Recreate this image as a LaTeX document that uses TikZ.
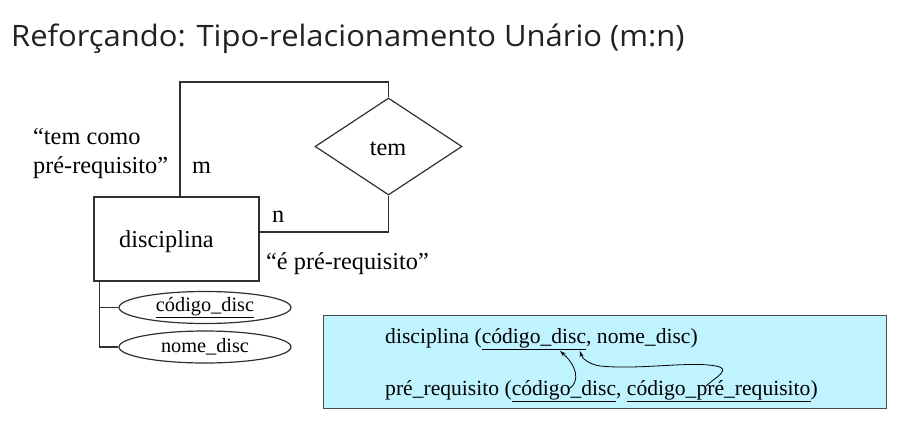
\documentclass[tikz,border=0pt]{standalone}
\usepackage{fontspec}
\setmainfont{Liberation Serif}
\newfontfamily\titlefont[FakeStretch=1.05]{Open Sans}
\usetikzlibrary{shapes.geometric,arrows.meta}
\definecolor{titlegray}{HTML}{222222}
\definecolor{boxfill}{HTML}{BFF3FF}
\definecolor{boxline}{HTML}{4A4A55}
\definecolor{linegray}{HTML}{303030}
\tikzset{
  erline/.style={draw=linegray, line width=1.2pt},
  lbl/.style={inner sep=0pt, anchor=base west, font=\fontsize{24.3}{29}\selectfont},
  attr/.style={erline, ellipse, minimum width=172pt, minimum height=32pt, inner sep=0pt,
               font=\fontsize{20.3}{24}\selectfont},
  reltext/.style={inner sep=0pt, anchor=base west, font=\fontsize{21.6}{26}\selectfont},
  fkarrow/.style={draw=black, line width=0.8pt, -{Stealth[length=6pt,width=4pt]}}
}
\begin{document}
\begin{tikzpicture}[x=1pt,y=-1pt]
\useasboundingbox (0,0) rectangle (901,436);
% title
\node[inner sep=0pt, anchor=base west, text=titlegray, font=\titlefont\fontsize{29.5}{33}\selectfont] (title) at (11,47) {Reforçando: Tipo-relacionamento Unário (m:n)};
% entity
\node[erline, minimum width=165pt, minimum height=84pt, inner sep=0pt] (disc) at (176.5,239) {};
\node[lbl] (disctext) at (119,247) {disciplina};
% relationship
\node[erline, diamond, minimum width=147pt, minimum height=97pt, inner sep=0pt] (tem) at (388.5,146.5) {};
\node[lbl, anchor=base] (temtext) at (388,155) {tem};
% connectors
\coordinate (c1) at (180,82);
\coordinate (c2) at (388.5,82);
\draw[erline] (disc.north west -| c1) -- (c1) -- (c2) -- (tem.north);
\draw[erline] (tem.south) |- ([yshift=7pt]disc.east);
% labels
\node[lbl] (l1) at (33,144) {“tem como};
\node[lbl] (l2) at (33,173) {pré-requisito”};
\node[lbl] (m) at (192,173) {m};
\node[lbl] (n) at (272,222) {n};
\node[lbl] (l3) at (266,269) {“é pré-requisito”};
% attributes
\node[attr] (a1) at (205,307.5) {\underline{código\_disc}};
\node[attr] (a2) at (205,347) {nome\_disc};
\coordinate (s) at ([xshift=6pt]disc.south west);
\draw[erline] (s) |- (a2.west);
\draw[erline] (a1.west) -| (s);
% relational schema
\node[draw=boxline, line width=1.2pt, fill=boxfill, minimum width=563pt, minimum height=93pt, inner sep=0pt, anchor=north west] (rel) at (323,315) {};
\node[reltext] (r1) at (385,343) {disciplina (\underline{código\_disc}, nome\_disc)};
\node[reltext] (r2) at (385,395) {pré\_requisito (\underline{código\_disc}, \underline{código\_pré\_requisito})};
\coordinate (f1s) at (569,389);
\coordinate (f1e) at (560,351);
\coordinate (f2s) at (706,386);
\coordinate (f2e) at (580,351);
\draw[fkarrow] (f1s) .. controls (581,381) and (576,365) .. (f1e);
\draw[fkarrow] (f2s) .. controls (716,377) and (732,369) .. (716,366)
  .. controls (690,361) and (640,370) .. (600,366)
  .. controls (588,364) and (582,358) .. (f2e);
\end{tikzpicture}
\end{document}
